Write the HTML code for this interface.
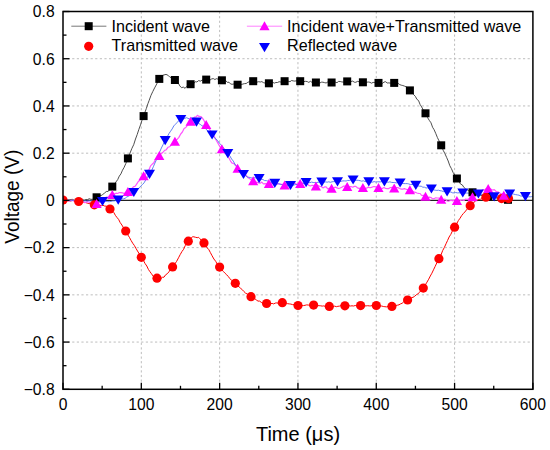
<!DOCTYPE html><html><head><meta charset="utf-8"><style>html,body{margin:0;padding:0;background:#fff;}svg{display:block;font-family:"Liberation Sans",sans-serif;}</style></head><body>
<svg width="550" height="450" viewBox="0 0 550 450">
<rect width="550" height="450" fill="#fff"/>
<defs><clipPath id="pc"><rect x="63" y="11.5" width="469.9" height="377.8"/></clipPath></defs>
<g stroke="#bdbdbd" stroke-width="1" stroke-dasharray="2.2 2.4"><line x1="141.32" y1="11.5" x2="141.32" y2="389.3"/><line x1="219.63" y1="11.5" x2="219.63" y2="389.3"/><line x1="297.95" y1="11.5" x2="297.95" y2="389.3"/><line x1="376.27" y1="11.5" x2="376.27" y2="389.3"/><line x1="454.58" y1="11.5" x2="454.58" y2="389.3"/><line x1="63.0" y1="342.07" x2="532.9" y2="342.07"/><line x1="63.0" y1="294.85" x2="532.9" y2="294.85"/><line x1="63.0" y1="247.62" x2="532.9" y2="247.62"/><line x1="63.0" y1="153.18" x2="532.9" y2="153.18"/><line x1="63.0" y1="105.95" x2="532.9" y2="105.95"/><line x1="63.0" y1="58.73" x2="532.9" y2="58.73"/></g>
<line x1="63.0" y1="200.40" x2="532.9" y2="200.40" stroke="#222" stroke-width="1.2"/>
<g clip-path="url(#pc)">
<path d="M63.0,199.8 L64.1,200.3 L65.5,200.0 L67.1,200.4 L68.8,200.4 L70.6,199.5 L72.5,199.4 L74.4,200.7 L76.3,199.7 L78.2,199.6 L80.0,200.8 L82.3,199.8 L84.3,200.3 L86.1,199.5 L87.7,199.6 L89.2,198.7 L90.6,199.2 L92.0,199.4 L94.0,198.8 L96.6,197.7 L98.0,196.8 L99.5,195.2 L101.1,195.6 L102.7,194.5 L104.5,193.1 L106.3,191.5 L108.2,191.4 L110.2,188.9 L112.3,187.0 L114.2,184.7 L116.0,181.9 L117.7,179.6 L119.3,176.1 L120.9,173.9 L122.5,170.2 L124.1,167.4 L125.9,163.4 L127.9,157.8 L130.0,153.1 L131.9,148.4 L133.7,144.7 L135.5,139.0 L137.2,134.5 L138.9,129.3 L140.5,124.9 L142.0,120.2 L143.6,115.9 L146.3,108.6 L147.9,103.7 L149.2,100.3 L151.0,95.3 L152.8,91.5 L154.6,87.9 L156.2,85.0 L157.8,81.7 L159.3,78.4 L161.5,76.1 L163.0,75.2 L166.0,74.4 L167.9,75.2 L170.0,77.3 L171.5,77.4 L172.9,79.1 L174.9,80.1 L176.5,81.2 L178.1,82.7 L179.8,85.9 L181.5,87.7 L183.3,87.1 L185.1,88.3 L186.4,86.8 L187.9,85.0 L190.6,83.9 L192.1,84.1 L193.7,83.6 L195.3,81.7 L196.9,82.0 L198.6,80.6 L200.4,81.1 L202.3,80.0 L204.2,80.5 L206.2,80.4 L208.2,79.4 L210.0,80.1 L211.7,78.9 L213.3,78.6 L214.9,79.5 L216.5,78.7 L218.1,79.2 L219.9,79.8 L221.9,80.5 L223.9,80.2 L225.7,80.5 L227.4,82.4 L229.0,82.2 L230.5,83.9 L232.1,84.3 L233.8,84.0 L235.6,84.5 L237.6,84.7 L239.6,84.9 L241.4,84.5 L243.0,84.0 L244.6,83.6 L246.2,83.5 L247.8,82.3 L249.5,81.7 L251.3,81.8 L253.2,80.8 L255.2,80.9 L257.0,82.1 L258.7,81.7 L260.3,82.0 L261.8,81.6 L263.4,82.6 L265.1,83.1 L266.9,82.5 L268.9,83.5 L270.9,83.5 L272.7,82.4 L274.3,83.1 L275.9,82.5 L277.5,82.5 L279.1,81.7 L280.8,82.0 L282.6,81.8 L284.6,80.4 L286.5,80.4 L288.3,81.3 L290.0,81.7 L291.6,80.5 L293.2,80.9 L294.8,81.1 L296.4,80.8 L298.2,80.9 L300.2,80.9 L302.2,81.1 L304.0,81.6 L305.7,81.3 L307.3,81.6 L308.8,82.4 L310.4,81.3 L312.1,82.4 L313.9,82.8 L315.9,82.2 L317.9,82.1 L319.7,83.1 L321.3,82.2 L322.9,82.2 L324.5,82.6 L326.1,83.0 L327.8,82.0 L329.6,82.3 L331.6,82.2 L333.5,82.9 L335.3,82.2 L337.0,82.7 L338.6,81.4 L340.2,81.5 L341.8,81.9 L343.4,82.1 L345.2,81.4 L347.2,81.0 L349.2,80.8 L351.0,81.5 L352.7,81.1 L354.3,82.2 L355.8,82.3 L357.4,81.4 L359.1,81.7 L360.9,82.7 L362.9,82.5 L364.9,82.9 L366.7,82.2 L368.3,82.0 L369.9,82.3 L371.5,83.2 L373.1,82.4 L374.8,82.6 L376.6,82.7 L378.5,82.8 L380.5,82.7 L382.3,83.4 L384.0,82.1 L385.6,81.7 L387.2,83.0 L388.8,82.9 L390.4,83.1 L392.2,82.4 L394.2,83.6 L396.2,84.0 L398.0,83.3 L399.7,84.6 L401.3,85.2 L402.8,85.5 L404.4,86.1 L406.1,86.8 L407.9,88.3 L409.9,90.0 L411.8,91.7 L413.6,94.6 L415.3,96.3 L416.9,99.3 L418.5,100.5 L420.1,104.5 L421.7,107.0 L423.5,110.5 L425.5,113.9 L427.5,117.5 L429.3,120.4 L431.0,122.8 L432.6,127.3 L434.1,129.7 L435.7,133.3 L437.4,137.5 L439.2,141.2 L441.2,145.2 L443.2,150.3 L445.0,153.8 L446.6,157.4 L448.2,161.0 L449.8,165.7 L451.4,168.6 L453.1,172.5 L454.9,175.1 L456.9,178.0 L458.8,181.4 L460.6,184.1 L462.3,184.9 L463.9,187.4 L465.5,188.8 L467.1,189.7 L468.7,190.7 L470.5,190.4 L472.5,192.5 L474.5,193.9 L476.2,193.4 L477.8,194.3 L479.3,194.7 L480.8,195.4 L482.4,195.4 L484.1,195.7 L486.0,196.5 L488.2,195.7 L490.0,196.2 L491.8,196.6 L493.7,197.0 L495.6,197.2 L497.5,198.9 L499.3,199.0 L501.0,198.1 L502.7,199.0 L504.2,198.9 L505.6,199.1 L506.9,199.4 L508.0,199.8" fill="none" stroke="#3a3a3a" stroke-width="0.9" stroke-linejoin="round"/>
<path d="M63.0,200.1 L64.2,200.3 L65.5,200.5 L67.1,200.8 L68.8,200.7 L70.6,201.0 L72.5,200.3 L74.5,200.9 L76.6,201.6 L78.7,201.6 L80.6,202.2 L82.4,201.7 L84.1,202.4 L85.7,202.5 L87.3,203.2 L88.9,203.6 L90.5,203.4 L92.3,204.0 L94.3,204.6 L96.3,205.6 L98.1,205.6 L99.8,205.1 L101.4,205.7 L102.9,205.2 L104.5,206.0 L106.2,206.2 L108.0,207.0 L110.0,209.4 L112.0,210.5 L113.8,212.5 L115.4,215.4 L117.0,217.5 L118.6,219.4 L120.2,222.6 L121.9,225.0 L123.7,228.1 L125.7,230.7 L127.6,234.6 L129.4,237.3 L131.1,240.5 L132.7,243.2 L134.3,245.4 L135.9,248.3 L137.5,251.0 L139.3,253.9 L141.3,256.9 L143.3,260.2 L145.1,263.6 L146.8,266.0 L148.4,269.4 L149.9,271.6 L151.5,273.8 L153.2,276.2 L155.0,277.3 L157.0,278.0 L159.0,278.5 L160.8,278.6 L162.4,277.3 L164.0,277.2 L165.6,274.8 L167.2,273.8 L168.9,271.9 L170.7,268.8 L172.6,267.2 L174.7,264.1 L176.6,261.4 L178.5,257.8 L180.2,254.6 L181.9,251.6 L183.6,249.3 L185.2,245.7 L186.8,243.7 L188.3,241.6 L190.9,238.5 L192.5,236.7 L193.8,236.8 L195.6,237.3 L197.2,237.7 L198.5,237.3 L199.8,238.7 L201.6,240.4 L204.0,243.3 L205.6,244.6 L207.2,247.9 L208.8,249.6 L210.4,252.6 L212.1,255.8 L213.9,259.0 L215.7,261.3 L217.6,264.8 L219.6,267.1 L221.6,269.4 L223.4,271.5 L225.1,273.3 L226.7,274.8 L228.2,276.4 L229.8,278.5 L231.5,280.3 L233.3,281.1 L235.3,282.8 L237.3,285.7 L239.1,286.9 L240.7,288.4 L242.3,289.7 L243.9,291.5 L245.5,293.1 L247.2,294.0 L249.0,295.3 L251.0,296.3 L252.9,298.4 L254.7,298.6 L256.4,300.0 L258.0,301.1 L259.6,301.1 L261.2,302.3 L262.8,303.1 L264.6,303.2 L266.6,303.8 L268.6,303.4 L270.4,303.8 L272.1,303.4 L273.7,303.9 L275.2,303.1 L276.8,302.9 L278.5,303.3 L280.3,303.0 L282.3,303.2 L284.3,302.8 L286.1,303.1 L287.7,303.7 L289.3,303.9 L290.9,304.1 L292.5,304.6 L294.2,304.6 L296.0,305.2 L298.0,306.0 L299.9,306.1 L301.7,305.7 L303.4,305.6 L305.0,305.3 L306.6,304.9 L308.2,305.0 L309.8,305.4 L311.6,305.4 L313.6,305.0 L315.6,305.5 L317.4,305.6 L319.1,305.7 L320.7,305.8 L322.2,306.1 L323.8,305.9 L325.5,306.4 L327.3,306.1 L329.3,306.4 L331.3,306.7 L333.1,306.6 L334.7,306.1 L336.3,306.7 L337.9,306.3 L339.5,306.1 L341.2,305.5 L343.0,305.9 L344.9,305.6 L346.9,305.9 L348.7,305.7 L350.4,306.0 L352.0,305.8 L353.6,306.0 L355.2,305.5 L356.8,305.8 L358.6,305.9 L360.6,305.9 L362.6,305.4 L364.4,305.9 L366.1,305.9 L367.7,305.7 L369.2,305.9 L370.8,305.9 L372.5,305.5 L374.3,305.5 L376.3,305.2 L378.2,305.9 L380.0,306.2 L381.7,306.0 L383.3,306.5 L384.9,306.7 L386.5,306.9 L388.1,306.4 L389.9,306.9 L391.9,306.5 L393.9,306.2 L395.7,305.5 L397.4,305.2 L399.0,304.8 L400.5,303.9 L402.1,303.3 L403.8,301.7 L405.6,300.8 L407.6,299.9 L409.6,299.1 L411.4,297.7 L413.0,297.3 L414.6,296.4 L416.2,294.8 L417.8,294.0 L419.5,292.2 L421.3,290.1 L423.3,287.7 L425.2,285.1 L427.0,282.1 L428.7,279.2 L430.3,276.0 L431.9,273.2 L433.5,269.8 L435.1,266.5 L436.9,262.7 L438.9,258.4 L440.9,255.2 L442.7,250.5 L444.4,247.4 L446.0,243.8 L447.5,240.6 L449.1,237.0 L450.8,234.4 L452.6,230.5 L454.6,226.7 L456.6,224.0 L458.4,220.5 L460.0,218.3 L461.6,215.7 L463.2,213.7 L464.8,212.0 L466.5,209.9 L468.3,207.6 L470.2,206.0 L472.2,204.0 L474.0,202.2 L475.7,200.8 L477.3,200.2 L478.9,199.4 L480.5,199.2 L482.1,198.6 L483.9,197.8 L485.9,197.1 L487.9,197.3 L489.9,196.3 L491.8,196.5 L493.5,197.2 L495.2,197.5 L496.9,197.4 L498.5,198.3 L500.1,198.8 L501.6,198.5 L504.4,198.6 L506.2,198.4 L507.5,198.4 L508.5,198.6" fill="none" stroke="#ff0000" stroke-width="1" stroke-linejoin="round"/>
<path d="M63.0,200.1 L64.1,199.9 L65.5,201.0 L67.0,199.9 L68.6,200.9 L70.3,200.7 L72.2,200.2 L74.1,201.2 L76.0,200.4 L77.9,201.3 L79.8,200.7 L81.6,200.9 L83.4,201.7 L85.0,202.7 L87.5,201.6 L89.3,202.3 L90.7,203.6 L91.9,204.6 L93.1,204.1 L94.6,203.7 L96.6,204.5 L98.4,202.0 L100.1,202.7 L101.7,200.6 L103.3,199.2 L104.9,197.9 L106.6,197.1 L108.4,197.0 L110.3,194.7 L112.3,194.6 L114.2,194.1 L116.0,193.2 L117.7,193.5 L119.3,192.6 L120.9,192.6 L122.5,192.8 L124.1,193.5 L125.9,192.4 L127.9,191.1 L129.9,190.4 L131.7,188.7 L133.4,186.9 L135.0,186.3 L136.5,184.4 L138.1,181.7 L139.8,180.3 L141.6,178.1 L143.6,176.5 L145.6,173.8 L147.4,170.6 L149.0,169.8 L150.6,165.8 L152.2,164.2 L153.8,162.7 L155.5,159.3 L157.3,157.8 L159.3,154.6 L161.2,153.8 L163.0,152.2 L164.7,150.4 L166.3,149.7 L167.9,147.3 L169.5,146.8 L171.1,145.2 L172.9,143.4 L174.9,141.1 L176.9,139.6 L178.9,137.4 L180.7,134.0 L182.4,132.0 L184.1,128.5 L185.8,127.5 L187.4,125.3 L189.0,124.0 L190.6,121.9 L193.0,118.4 L194.7,117.1 L196.1,116.8 L197.4,115.3 L199.0,116.4 L200.8,116.5 L202.1,117.6 L203.6,119.8 L206.2,125.1 L207.8,126.1 L209.3,128.7 L210.9,131.6 L212.6,135.2 L214.3,136.4 L216.1,140.0 L217.9,143.1 L219.9,146.7 L221.9,149.4 L223.9,152.3 L225.7,153.6 L227.4,156.1 L229.0,158.1 L230.5,161.1 L232.1,163.2 L233.8,163.5 L235.6,165.5 L237.6,167.7 L239.6,169.7 L241.4,172.0 L243.0,173.8 L244.6,174.6 L246.2,175.4 L247.8,177.4 L249.5,178.5 L251.3,179.9 L253.2,181.7 L255.2,182.0 L257.0,182.3 L258.7,182.9 L260.3,183.2 L261.8,182.1 L263.4,183.8 L265.1,183.6 L266.9,183.9 L268.9,184.0 L270.9,183.5 L272.7,183.7 L274.3,183.4 L275.9,184.7 L277.5,183.7 L279.1,183.9 L280.8,184.3 L282.6,184.3 L284.6,184.7 L286.5,184.1 L288.3,183.8 L290.0,183.9 L291.6,183.6 L293.2,183.8 L294.8,182.9 L296.4,184.4 L298.2,183.8 L300.2,182.9 L302.2,183.2 L304.0,183.6 L305.7,183.8 L307.3,183.6 L308.8,185.4 L310.4,186.0 L312.1,185.3 L313.9,185.6 L315.9,185.2 L317.9,185.5 L319.7,186.3 L321.3,186.5 L322.9,187.9 L324.5,186.9 L326.1,186.8 L327.8,188.9 L329.6,188.2 L331.6,187.5 L333.5,188.2 L335.3,187.1 L337.0,187.9 L338.6,188.5 L340.2,188.0 L341.8,187.3 L343.4,186.2 L345.2,186.2 L347.2,185.7 L349.2,186.9 L351.0,186.5 L352.7,187.2 L354.3,186.4 L355.8,186.4 L357.4,187.8 L359.1,188.3 L360.9,188.2 L362.9,188.2 L364.9,188.3 L366.7,188.2 L368.3,187.1 L369.9,187.7 L371.5,187.4 L373.1,186.7 L374.8,186.7 L376.6,187.1 L378.5,187.1 L380.5,188.0 L382.3,188.5 L384.0,187.5 L385.6,188.5 L387.2,188.7 L388.8,188.6 L390.4,187.5 L392.2,187.3 L394.2,187.5 L396.2,187.5 L398.0,187.6 L399.7,188.5 L401.3,189.1 L402.8,189.1 L404.4,188.6 L406.1,189.2 L407.9,189.8 L409.9,188.9 L411.8,190.6 L413.6,191.8 L415.3,192.3 L416.9,193.0 L418.5,193.3 L420.1,193.5 L421.7,195.5 L423.5,195.3 L425.5,196.9 L427.5,197.8 L429.3,197.1 L431.0,197.5 L432.6,198.9 L434.1,198.7 L435.7,197.8 L437.4,198.0 L439.2,198.2 L441.2,200.0 L443.2,200.1 L445.0,199.1 L446.6,200.7 L448.2,201.3 L449.8,200.8 L451.4,200.3 L453.1,200.8 L454.9,200.0 L456.9,199.6 L458.8,201.4 L460.6,200.5 L462.3,200.0 L463.9,200.5 L465.5,199.1 L467.1,199.5 L468.7,198.8 L470.5,197.0 L472.5,196.3 L474.5,195.5 L476.3,194.3 L478.0,193.8 L479.6,192.0 L481.1,191.2 L482.7,189.6 L484.4,190.3 L486.2,188.6 L488.2,188.5 L490.3,188.9 L492.3,190.0 L494.3,189.7 L496.3,191.7 L498.1,191.9 L499.8,193.0 L501.3,193.9 L502.7,193.7 L503.8,195.3" fill="none" stroke="#ff55ff" stroke-width="1.2" stroke-linejoin="round"/>
<path d="M63.0,200.3 L64.1,200.2 L65.4,200.1 L66.8,200.7 L68.4,200.0 L70.1,200.5 L71.8,200.8 L73.7,200.2 L75.6,200.7 L77.5,200.8 L79.4,200.3 L81.3,200.7 L83.2,201.0 L85.0,200.8 L86.8,201.1 L88.5,200.7 L90.0,200.8 L92.9,200.8 L94.9,201.2 L96.5,201.7 L97.7,201.5 L98.9,201.7 L100.4,201.4 L102.5,201.7 L104.3,201.2 L106.0,201.3 L107.7,201.6 L109.3,201.7 L110.9,201.4 L112.6,201.0 L114.3,200.9 L116.2,200.5 L118.2,200.0 L120.1,199.9 L121.9,198.9 L123.6,198.9 L125.2,198.3 L126.8,196.9 L128.4,196.3 L130.0,195.3 L131.8,193.7 L133.8,192.4 L135.8,191.2 L137.6,189.0 L139.3,187.9 L140.9,185.9 L142.4,184.6 L144.0,182.9 L145.7,180.0 L147.5,177.2 L149.5,174.1 L151.5,170.9 L153.3,166.8 L154.9,163.1 L156.5,159.6 L158.1,156.1 L159.7,151.9 L161.4,148.0 L163.2,144.4 L165.2,140.3 L167.1,137.2 L168.9,133.7 L170.6,131.2 L172.2,128.9 L173.8,125.9 L175.4,124.3 L177.0,122.6 L178.8,120.6 L180.8,119.4 L182.8,119.0 L184.6,118.5 L186.3,117.7 L187.9,118.3 L189.4,119.0 L191.0,119.1 L192.7,120.3 L194.5,120.8 L196.5,122.1 L198.5,123.4 L200.3,124.4 L201.9,125.7 L203.5,126.4 L205.1,128.0 L206.7,129.9 L208.4,131.3 L210.2,133.0 L212.1,134.9 L214.1,137.4 L215.9,139.0 L217.6,140.5 L219.2,143.0 L220.8,144.5 L222.4,146.6 L224.0,148.6 L225.8,151.0 L227.8,153.5 L229.8,155.9 L231.6,159.0 L233.3,161.1 L234.9,164.1 L236.4,165.9 L238.0,168.8 L239.7,171.0 L241.5,172.7 L243.5,174.7 L245.5,175.7 L247.3,177.0 L248.9,177.3 L250.5,177.5 L252.1,178.2 L253.7,177.8 L255.4,177.8 L257.2,178.4 L259.1,178.5 L261.1,179.3 L262.9,179.5 L264.6,180.6 L266.2,180.6 L267.7,181.0 L269.3,182.2 L271.0,182.1 L272.8,183.2 L274.8,183.7 L276.8,183.8 L278.6,183.8 L280.2,184.2 L281.8,184.6 L283.4,185.0 L285.0,185.4 L286.7,185.8 L288.5,185.4 L290.5,185.2 L292.4,185.4 L294.2,184.9 L295.9,184.5 L297.5,184.5 L299.1,184.3 L300.7,183.3 L302.3,183.3 L304.1,183.1 L306.1,182.9 L308.1,182.4 L309.9,182.7 L311.6,182.1 L313.2,182.5 L314.7,182.5 L316.3,182.6 L318.0,182.3 L319.8,181.9 L321.8,181.8 L323.8,182.2 L325.6,181.9 L327.2,182.2 L328.8,181.8 L330.4,182.3 L332.0,181.8 L333.7,181.6 L335.5,181.7 L337.5,181.8 L339.4,181.7 L341.2,181.3 L342.9,180.9 L344.5,180.9 L346.1,181.0 L347.7,180.4 L349.3,180.5 L351.1,179.7 L353.1,180.4 L355.1,180.4 L356.9,180.2 L358.6,180.4 L360.2,180.7 L361.7,181.2 L363.3,180.8 L365.0,181.5 L366.8,181.7 L368.8,181.6 L370.8,182.1 L372.6,182.1 L374.2,181.6 L375.8,182.0 L377.4,181.8 L379.0,181.8 L380.7,181.9 L382.5,181.4 L384.4,181.9 L386.4,181.8 L388.2,182.3 L389.9,181.8 L391.5,182.4 L393.1,182.5 L394.7,182.5 L396.3,182.9 L398.1,182.4 L400.1,183.1 L402.1,183.3 L403.9,183.6 L405.6,183.6 L407.2,183.6 L408.7,183.9 L410.3,184.5 L412.0,184.4 L413.8,184.7 L415.8,185.3 L417.7,185.8 L419.5,186.2 L421.2,186.2 L422.8,187.2 L424.4,187.2 L426.0,188.0 L427.6,187.8 L429.4,188.9 L431.4,189.1 L433.4,189.8 L435.2,190.2 L436.9,190.4 L438.5,190.2 L440.0,190.7 L441.6,190.9 L443.3,191.6 L445.1,191.4 L447.1,191.7 L449.1,191.8 L450.9,192.0 L452.5,192.8 L454.1,192.9 L455.7,192.5 L457.3,192.9 L459.0,192.8 L460.8,192.9 L462.8,192.9 L464.7,193.2 L466.5,193.0 L468.2,193.1 L469.8,193.4 L471.4,193.2 L473.0,193.4 L474.6,194.0 L476.4,193.4 L478.4,193.7 L480.4,194.5 L482.2,194.3 L483.9,194.9 L485.5,195.8 L487.0,196.0 L488.6,196.0 L490.3,196.2 L492.1,196.5 L494.1,196.6 L496.1,196.9 L497.9,196.8 L499.5,196.3 L501.1,196.0 L502.7,195.5 L504.3,195.0 L506.0,194.7 L507.8,194.5 L509.7,193.7 L511.8,193.9 L513.7,194.1 L515.6,194.6 L517.3,194.9 L519.0,195.2 L520.7,196.0 L522.3,196.0 L523.9,196.1 L525.4,196.4 L528.3,196.8 L530.3,196.8 L531.7,196.6 L532.9,196.5" fill="none" stroke="#5070f0" stroke-width="0.9" stroke-linejoin="round"/>
<rect x="92.6" y="193.3" width="8.0" height="8.0" fill="#000"/><rect x="108.3" y="182.6" width="8.0" height="8.0" fill="#000"/><rect x="123.9" y="154.4" width="8.0" height="8.0" fill="#000"/><rect x="139.6" y="112.1" width="8.0" height="8.0" fill="#000"/><rect x="155.3" y="74.9" width="8.0" height="8.0" fill="#000"/><rect x="170.9" y="76.0" width="8.0" height="8.0" fill="#000"/><rect x="186.6" y="80.2" width="8.0" height="8.0" fill="#000"/><rect x="202.2" y="75.6" width="8.0" height="8.0" fill="#000"/><rect x="217.9" y="76.3" width="8.0" height="8.0" fill="#000"/><rect x="233.6" y="80.7" width="8.0" height="8.0" fill="#000"/><rect x="249.2" y="77.2" width="8.0" height="8.0" fill="#000"/><rect x="264.9" y="79.3" width="8.0" height="8.0" fill="#000"/><rect x="280.6" y="77.2" width="8.0" height="8.0" fill="#000"/><rect x="296.2" y="77.2" width="8.0" height="8.0" fill="#000"/><rect x="311.9" y="78.5" width="8.0" height="8.0" fill="#000"/><rect x="327.6" y="78.5" width="8.0" height="8.0" fill="#000"/><rect x="343.2" y="77.4" width="8.0" height="8.0" fill="#000"/><rect x="358.9" y="78.3" width="8.0" height="8.0" fill="#000"/><rect x="374.5" y="78.9" width="8.0" height="8.0" fill="#000"/><rect x="390.2" y="78.9" width="8.0" height="8.0" fill="#000"/><rect x="405.9" y="86.4" width="8.0" height="8.0" fill="#000"/><rect x="421.5" y="109.3" width="8.0" height="8.0" fill="#000"/><rect x="437.2" y="141.3" width="8.0" height="8.0" fill="#000"/><rect x="452.9" y="174.5" width="8.0" height="8.0" fill="#000"/><rect x="468.5" y="188.3" width="8.0" height="8.0" fill="#000"/><rect x="484.2" y="192.5" width="8.0" height="8.0" fill="#000"/><rect x="504.0" y="195.8" width="8.0" height="8.0" fill="#000"/>
<circle cx="63.0" cy="200.0" r="4.6" fill="#ff0000"/><circle cx="78.7" cy="201.5" r="4.6" fill="#ff0000"/><circle cx="94.3" cy="204.8" r="4.6" fill="#ff0000"/><circle cx="110.0" cy="209.0" r="4.6" fill="#ff0000"/><circle cx="125.7" cy="231.0" r="4.6" fill="#ff0000"/><circle cx="141.3" cy="257.3" r="4.6" fill="#ff0000"/><circle cx="157.0" cy="278.2" r="4.6" fill="#ff0000"/><circle cx="172.6" cy="266.9" r="4.6" fill="#ff0000"/><circle cx="188.3" cy="241.2" r="4.6" fill="#ff0000"/><circle cx="204.0" cy="242.9" r="4.6" fill="#ff0000"/><circle cx="219.6" cy="267.1" r="4.6" fill="#ff0000"/><circle cx="235.3" cy="283.3" r="4.6" fill="#ff0000"/><circle cx="251.0" cy="296.7" r="4.6" fill="#ff0000"/><circle cx="266.6" cy="303.5" r="4.6" fill="#ff0000"/><circle cx="282.3" cy="302.7" r="4.6" fill="#ff0000"/><circle cx="298.0" cy="305.5" r="4.6" fill="#ff0000"/><circle cx="313.6" cy="305.1" r="4.6" fill="#ff0000"/><circle cx="329.3" cy="306.4" r="4.6" fill="#ff0000"/><circle cx="344.9" cy="305.8" r="4.6" fill="#ff0000"/><circle cx="360.6" cy="305.6" r="4.6" fill="#ff0000"/><circle cx="376.3" cy="305.5" r="4.6" fill="#ff0000"/><circle cx="391.9" cy="306.4" r="4.6" fill="#ff0000"/><circle cx="407.6" cy="300.0" r="4.6" fill="#ff0000"/><circle cx="423.3" cy="288.1" r="4.6" fill="#ff0000"/><circle cx="438.9" cy="258.7" r="4.6" fill="#ff0000"/><circle cx="454.6" cy="227.2" r="4.6" fill="#ff0000"/><circle cx="470.2" cy="205.7" r="4.6" fill="#ff0000"/><circle cx="485.9" cy="197.2" r="4.6" fill="#ff0000"/><circle cx="501.6" cy="198.6" r="4.6" fill="#ff0000"/><circle cx="508.5" cy="198.6" r="4.6" fill="#ff0000"/>
<path d="M96.6,199.0 L101.7,208.0 L91.5,208.0Z" fill="#ff00ff"/><path d="M112.3,189.9 L117.4,198.9 L107.2,198.9Z" fill="#ff00ff"/><path d="M127.9,187.0 L133.0,196.0 L122.8,196.0Z" fill="#ff00ff"/><path d="M143.6,171.2 L148.7,180.2 L138.5,180.2Z" fill="#ff00ff"/><path d="M159.3,151.0 L164.4,160.0 L154.2,160.0Z" fill="#ff00ff"/><path d="M174.9,136.7 L180.0,145.7 L169.8,145.7Z" fill="#ff00ff"/><path d="M190.6,116.8 L195.7,125.8 L185.5,125.8Z" fill="#ff00ff"/><path d="M206.2,120.1 L211.3,129.1 L201.1,129.1Z" fill="#ff00ff"/><path d="M221.9,144.3 L227.0,153.3 L216.8,153.3Z" fill="#ff00ff"/><path d="M237.6,163.7 L242.7,172.7 L232.5,172.7Z" fill="#ff00ff"/><path d="M253.2,176.3 L258.3,185.3 L248.1,185.3Z" fill="#ff00ff"/><path d="M268.9,178.9 L274.0,187.9 L263.8,187.9Z" fill="#ff00ff"/><path d="M284.6,180.5 L289.7,189.5 L279.5,189.5Z" fill="#ff00ff"/><path d="M300.2,179.1 L305.3,188.1 L295.1,188.1Z" fill="#ff00ff"/><path d="M315.9,181.5 L321.0,190.5 L310.8,190.5Z" fill="#ff00ff"/><path d="M331.6,183.7 L336.7,192.7 L326.4,192.7Z" fill="#ff00ff"/><path d="M347.2,181.9 L352.3,190.9 L342.1,190.9Z" fill="#ff00ff"/><path d="M362.9,183.1 L368.0,192.1 L357.8,192.1Z" fill="#ff00ff"/><path d="M378.5,183.1 L383.6,192.1 L373.4,192.1Z" fill="#ff00ff"/><path d="M394.2,183.5 L399.3,192.5 L389.1,192.5Z" fill="#ff00ff"/><path d="M409.9,185.2 L415.0,194.2 L404.8,194.2Z" fill="#ff00ff"/><path d="M425.5,191.8 L430.6,200.8 L420.4,200.8Z" fill="#ff00ff"/><path d="M441.2,194.7 L446.3,203.7 L436.1,203.7Z" fill="#ff00ff"/><path d="M456.9,196.1 L462.0,205.1 L451.8,205.1Z" fill="#ff00ff"/><path d="M472.5,192.3 L477.6,201.3 L467.4,201.3Z" fill="#ff00ff"/><path d="M488.2,184.1 L493.3,193.1 L483.1,193.1Z" fill="#ff00ff"/><path d="M503.8,190.8 L508.9,199.8 L498.7,199.8Z" fill="#ff00ff"/>
<path d="M97.0,196.9 L108.0,196.9 L102.5,206.1Z" fill="#0000ff"/><path d="M112.7,195.6 L123.7,195.6 L118.2,204.8Z" fill="#0000ff"/><path d="M128.3,187.9 L139.3,187.9 L133.8,197.1Z" fill="#0000ff"/><path d="M144.0,169.8 L155.0,169.8 L149.5,179.0Z" fill="#0000ff"/><path d="M159.7,136.0 L170.7,136.0 L165.2,145.2Z" fill="#0000ff"/><path d="M175.3,115.0 L186.3,115.0 L180.8,124.2Z" fill="#0000ff"/><path d="M191.0,117.6 L202.0,117.6 L196.5,126.8Z" fill="#0000ff"/><path d="M206.6,130.4 L217.6,130.4 L212.1,139.6Z" fill="#0000ff"/><path d="M222.3,149.0 L233.3,149.0 L227.8,158.2Z" fill="#0000ff"/><path d="M238.0,169.9 L249.0,169.9 L243.5,179.1Z" fill="#0000ff"/><path d="M253.6,174.0 L264.6,174.0 L259.1,183.2Z" fill="#0000ff"/><path d="M269.3,178.7 L280.3,178.7 L274.8,187.9Z" fill="#0000ff"/><path d="M285.0,180.9 L296.0,180.9 L290.5,190.1Z" fill="#0000ff"/><path d="M300.6,178.1 L311.6,178.1 L306.1,187.3Z" fill="#0000ff"/><path d="M316.3,177.6 L327.3,177.6 L321.8,186.8Z" fill="#0000ff"/><path d="M332.0,177.2 L343.0,177.2 L337.5,186.4Z" fill="#0000ff"/><path d="M347.6,175.4 L358.6,175.4 L353.1,184.6Z" fill="#0000ff"/><path d="M363.3,177.2 L374.3,177.2 L368.8,186.4Z" fill="#0000ff"/><path d="M378.9,177.2 L389.9,177.2 L384.4,186.4Z" fill="#0000ff"/><path d="M394.6,178.4 L405.6,178.4 L400.1,187.6Z" fill="#0000ff"/><path d="M410.3,180.8 L421.3,180.8 L415.8,190.0Z" fill="#0000ff"/><path d="M425.9,184.4 L436.9,184.4 L431.4,193.6Z" fill="#0000ff"/><path d="M441.6,187.3 L452.6,187.3 L447.1,196.5Z" fill="#0000ff"/><path d="M457.3,188.4 L468.3,188.4 L462.8,197.6Z" fill="#0000ff"/><path d="M472.9,189.4 L483.9,189.4 L478.4,198.6Z" fill="#0000ff"/><path d="M488.6,192.2 L499.6,192.2 L494.1,201.4Z" fill="#0000ff"/><path d="M504.2,189.4 L515.2,189.4 L509.7,198.6Z" fill="#0000ff"/><path d="M519.9,192.0 L530.9,192.0 L525.4,201.2Z" fill="#0000ff"/>
</g>
<rect x="63.0" y="11.5" width="469.9" height="377.8" fill="none" stroke="#000" stroke-width="1.5"/>
<g stroke="#000" stroke-width="1.3"><line x1="63.00" y1="389.3" x2="63.00" y2="382.8"/><line x1="102.16" y1="389.3" x2="102.16" y2="385.8"/><line x1="141.32" y1="389.3" x2="141.32" y2="382.8"/><line x1="180.48" y1="389.3" x2="180.48" y2="385.8"/><line x1="219.63" y1="389.3" x2="219.63" y2="382.8"/><line x1="258.79" y1="389.3" x2="258.79" y2="385.8"/><line x1="297.95" y1="389.3" x2="297.95" y2="382.8"/><line x1="337.11" y1="389.3" x2="337.11" y2="385.8"/><line x1="376.27" y1="389.3" x2="376.27" y2="382.8"/><line x1="415.43" y1="389.3" x2="415.43" y2="385.8"/><line x1="454.58" y1="389.3" x2="454.58" y2="382.8"/><line x1="493.74" y1="389.3" x2="493.74" y2="385.8"/><line x1="532.90" y1="389.3" x2="532.90" y2="382.8"/><line x1="63.0" y1="389.30" x2="69.5" y2="389.30"/><line x1="63.0" y1="365.69" x2="66.5" y2="365.69"/><line x1="63.0" y1="342.07" x2="69.5" y2="342.07"/><line x1="63.0" y1="318.46" x2="66.5" y2="318.46"/><line x1="63.0" y1="294.85" x2="69.5" y2="294.85"/><line x1="63.0" y1="271.24" x2="66.5" y2="271.24"/><line x1="63.0" y1="247.62" x2="69.5" y2="247.62"/><line x1="63.0" y1="224.01" x2="66.5" y2="224.01"/><line x1="63.0" y1="200.40" x2="69.5" y2="200.40"/><line x1="63.0" y1="176.79" x2="66.5" y2="176.79"/><line x1="63.0" y1="153.18" x2="69.5" y2="153.18"/><line x1="63.0" y1="129.56" x2="66.5" y2="129.56"/><line x1="63.0" y1="105.95" x2="69.5" y2="105.95"/><line x1="63.0" y1="82.34" x2="66.5" y2="82.34"/><line x1="63.0" y1="58.73" x2="69.5" y2="58.73"/><line x1="63.0" y1="35.11" x2="66.5" y2="35.11"/><line x1="63.0" y1="11.50" x2="69.5" y2="11.50"/></g>
<g font-size="15.5" fill="#000"><text transform="translate(63.0,410.3) scale(1.01,1.01)" text-anchor="middle">0</text><text transform="translate(141.3,410.3) scale(1.01,1.01)" text-anchor="middle">100</text><text transform="translate(219.6,410.3) scale(1.01,1.01)" text-anchor="middle">200</text><text transform="translate(298.0,410.3) scale(1.01,1.01)" text-anchor="middle">300</text><text transform="translate(376.3,410.3) scale(1.01,1.01)" text-anchor="middle">400</text><text transform="translate(454.6,410.3) scale(1.01,1.01)" text-anchor="middle">500</text><text transform="translate(532.9,410.3) scale(1.01,1.01)" text-anchor="middle">600</text><text transform="translate(54.6,395.1) scale(1.01,1.01)" text-anchor="end">−0.8</text><text transform="translate(54.6,347.9) scale(1.01,1.01)" text-anchor="end">−0.6</text><text transform="translate(54.6,300.7) scale(1.01,1.01)" text-anchor="end">−0.4</text><text transform="translate(54.6,253.4) scale(1.01,1.01)" text-anchor="end">−0.2</text><text transform="translate(54.6,206.2) scale(1.01,1.01)" text-anchor="end">0</text><text transform="translate(54.6,159.0) scale(1.01,1.01)" text-anchor="end">0.2</text><text transform="translate(54.6,111.8) scale(1.01,1.01)" text-anchor="end">0.4</text><text transform="translate(54.6,64.5) scale(1.01,1.01)" text-anchor="end">0.6</text><text transform="translate(54.6,17.3) scale(1.01,1.01)" text-anchor="end">0.8</text></g>
<text transform="translate(298,441) scale(1,0.98)" text-anchor="middle" font-size="20">Time (μs)</text>
<text transform="translate(18.6,196.7) rotate(-90) scale(1,1.06)" text-anchor="middle" font-size="19">Voltage (V)</text>
<line x1="71.3" y1="26.2" x2="106.4" y2="26.2" stroke="#777" stroke-width="1"/>
<rect x="84.7" y="22.2" width="8.0" height="8.0" fill="#000"/>
<circle cx="88.7" cy="46.3" r="4.6" fill="#ff0000"/>
<line x1="246.9" y1="26.2" x2="282.2" y2="26.2" stroke="#ff80ff" stroke-width="1"/>
<path d="M264.5,21.2 L269.6,30.2 L259.4,30.2Z" fill="#ff00ff"/>
<path d="M259.0,43.0 L270.0,43.0 L264.5,52.2Z" fill="#0000ff"/>
<g font-size="16.1" fill="#000"><text transform="translate(111.6,31.6) scale(1,1.0)">Incident wave</text><text transform="translate(111.6,51.4) scale(1,1.0)">Transmitted wave</text><text transform="translate(287.1,31.6) scale(1,1.0)">Incident wave+Transmitted wave</text><text transform="translate(287.1,51.4) scale(1,1.0)">Reflected wave</text></g>
</svg></body></html>
